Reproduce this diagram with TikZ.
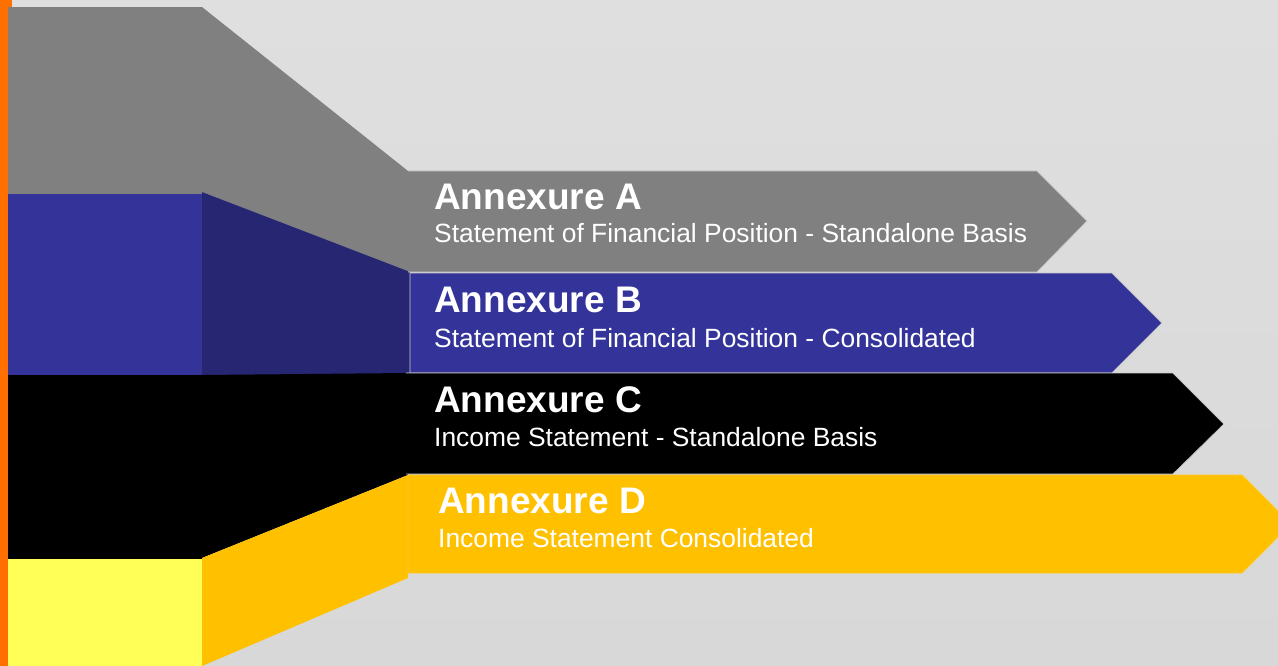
\documentclass[tikz,border=0pt]{standalone}
\usepackage{fontspec}
\setmainfont{Liberation Sans}
\definecolor{bgtop}{HTML}{DFDFDF}
\definecolor{bgbot}{HTML}{D8D8D8}
\definecolor{orangebar}{HTML}{FF7000}
\definecolor{greyband}{HTML}{808080}
\definecolor{blueband}{HTML}{333399}
\definecolor{darkblueband}{HTML}{262673}
\definecolor{paleyellow}{HTML}{FFFF57}
\definecolor{goldband}{HTML}{FFC000}
\definecolor{edgeline}{HTML}{C8C8C8}
\tikzset{
  arrowedge/.style={draw=edgeline, line width=0.8pt},
  titletext/.style={anchor=base west, inner sep=0pt, text=white, font=\fontsize{37}{44}\selectfont\bfseries},
  subtext/.style={anchor=base west, inner sep=0pt, text=white, font=\fontsize{26.4}{32}\selectfont},
}
\begin{document}
\begin{tikzpicture}[x=1pt,y=-1pt]
\useasboundingbox (0,0) rectangle (1278,666);
\clip (0,0) rectangle (1278,666);
\shade[top color=bgtop, bottom color=bgbot] (0,0) rectangle (1278,666);
% orange bar
\fill[orangebar] (0,0) rectangle (12,666);
% left blocks
\fill[greyband] (8,7) rectangle (202,194);
\fill[blueband] (8,194) rectangle (202,375);
\fill[black] (8,375) rectangle (202,559);
\fill[paleyellow] (8,559) rectangle (202,666);
% connecting trapezoids
\fill[greyband] (202,7) -- (408,171) -- (408,272) -- (202,192) -- cycle;
\fill[darkblueband] (202,192) -- (410,272) -- (410,375) -- (202,375) -- cycle;
\fill[black] (202,375) -- (408,373) -- (408,475) -- (202,558) -- cycle;
\fill[goldband] (202,558) -- (408,475) -- (408,578) -- (202,666) -- cycle;
% arrow bands
\fill[greyband] (408,171) -- (1037,171) -- (1087,221) -- (1037,272) -- (408,272) -- cycle;
\draw[arrowedge] (408,171) -- (1037,171) -- (1087,221) -- (1037,272) -- (408,272);
\fill[blueband] (410,273) -- (1112,273) -- (1162,323) -- (1112,373) -- (410,373) -- cycle;
\draw[arrowedge] (410,273) -- (1112,273) -- (1162,323) -- (1112,373) -- (410,373) -- cycle;
\fill[black] (406,373) -- (1173,373) -- (1224,424) -- (1173,474) -- (406,474) -- cycle;
\draw[arrowedge] (406,373) -- (1173,373) -- (1224,424) -- (1173,474) -- (406,474);
\fill[goldband] (408,475) -- (1242,475) -- (1291,524) -- (1242,573) -- (408,573) -- cycle;
\draw[arrowedge, draw=goldband!85!white] (408,475) -- (1242,475) -- (1291,524) -- (1242,573) -- (408,573) -- cycle;
% texts
\node[titletext] (ta) at (434,209) {Annexure A};
\node[subtext] (sa) at (434,243) {Statement of Financial Position - Standalone Basis};
\node[titletext] (tb) at (434,312) {Annexure B};
\node[subtext] (sb) at (434,347) {Statement of Financial Position - Consolidated};
\node[titletext] (tc) at (434,412) {Annexure C};
\node[subtext] (sc) at (434,446) {Income Statement - Standalone Basis};
\node[titletext] (td) at (438,513) {Annexure D};
\node[subtext] (sd) at (438,547) {Income Statement Consolidated};
\end{tikzpicture}
\end{document}
